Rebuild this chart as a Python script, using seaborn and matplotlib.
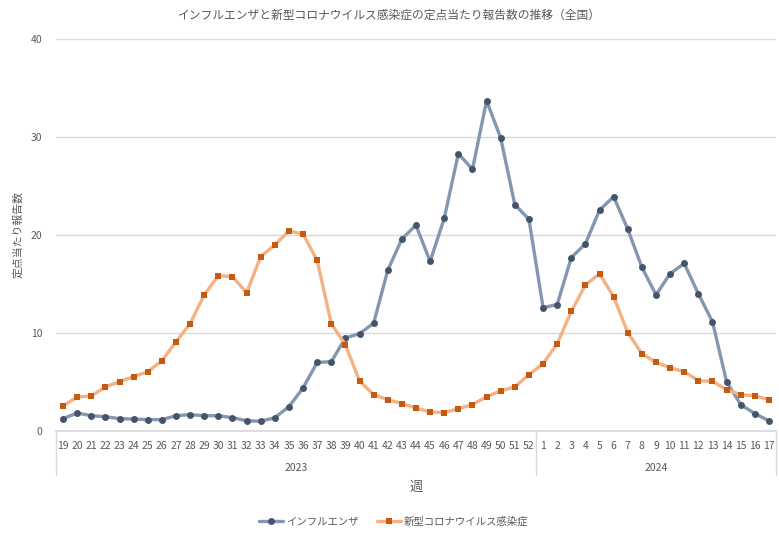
import matplotlib
matplotlib.use('Agg')
import matplotlib.pyplot as plt
import matplotlib.transforms as mtransforms
import numpy as np
import pandas as pd
import seaborn as sns

# week labels (2023: 19-52, 2024: 1-17)
weeks_2023 = list(range(19, 53))
weeks_2024 = list(range(1, 18))
week_labels = [str(w) for w in weeks_2023 + weeks_2024]
years = ['2023', '2024']

influenza = [1.26, 1.84, 1.56, 1.46, 1.26, 1.22, 1.16, 1.16, 1.56, 1.67,
             1.56, 1.56, 1.36, 1.05, 0.99, 1.36, 2.48, 4.4, 7.0, 7.07,
             9.5, 9.93, 11.0, 16.4, 19.6, 21.0, 17.3, 21.7, 28.3, 26.7,
             33.7, 29.9, 23.1, 21.6,
             12.6, 12.9, 17.7, 19.1, 22.55, 23.9, 20.6, 16.7, 13.9, 16.05,
             17.1, 14.0, 11.15, 5.03, 2.69, 1.77, 1.05]
covid = [2.55, 3.47, 3.57, 4.5, 5.03, 5.55, 6.05, 7.17, 9.1, 10.95,
         13.9, 15.85, 15.75, 14.1, 17.8, 19.0, 20.4, 20.1, 17.4, 10.95,
         8.8, 5.1, 3.7, 3.2, 2.8, 2.35, 1.94, 1.87, 2.28, 2.7,
         3.5, 4.1, 4.5, 5.75,
         6.87, 8.9, 12.2, 14.9, 16.05, 13.7, 10.03, 7.9, 7.0, 6.46,
         6.05, 5.13, 5.07, 4.22, 3.7, 3.6, 3.2]

series_names = ['インフルエンザ', '新型コロナウイルス感染症']

sns.set_theme(style='white')
plt.rcParams['font.family'] = ['Noto Sans CJK JP', 'DejaVu Sans']
text_color = '#595959'
grid_color = '#D9D9D9'

pos = np.arange(len(week_labels))
df = pd.DataFrame({
    'pos': np.concatenate([pos, pos]),
    'value': influenza + covid,
    'series': [series_names[0]] * len(pos) + [series_names[1]] * len(pos),
})

fig = plt.figure(figsize=(7.79, 5.34), dpi=100)
ax = fig.add_axes([56 / 779, 103 / 534, 720 / 779, 392 / 534])

sns.lineplot(data=df, x='pos', y='value', hue='series', style='series',
             palette={series_names[0]: '#8497B0', series_names[1]: '#F4B183'},
             markers={series_names[0]: 'o', series_names[1]: 's'},
             dashes=False, linewidth=2.4, markersize=5, ax=ax, legend=False)

# marker colors differ from line colors
for line, mc in zip(ax.lines, ['#44546A', '#C55A11']):
    line.set_markerfacecolor(mc)
    line.set_markeredgecolor(mc)
    line.set_markeredgewidth(0)

ax.set_xlim(-0.5, len(pos) - 0.5)
ax.set_ylim(0, 40)
ax.set_yticks([0, 10, 20, 30, 40])
ax.yaxis.grid(True, color=grid_color, linewidth=1)
ax.xaxis.grid(False)
for s in ['left', 'right', 'top']:
    ax.spines[s].set_visible(False)
ax.spines['bottom'].set_color(grid_color)
ax.tick_params(axis='y', length=0, labelsize=7.5, labelcolor=text_color, pad=10)
ax.set_xticks(pos)
ax.set_xticklabels(week_labels)
ax.tick_params(axis='x', length=0, labelsize=7.5, labelcolor=text_color, pad=7)
ax.set_xlabel('週', fontsize=9.5, color=text_color, labelpad=22)
ax.set_ylabel('定点当たり報告数', fontsize=7.8, color=text_color, labelpad=5)

# second level of the category axis: years
trans = mtransforms.blended_transform_factory(ax.transData, ax.transAxes)
n23 = len(weeks_2023)
for xb in [-0.5, n23 - 0.5, len(pos) - 0.5]:
    ax.plot([xb, xb], [0, -0.112], color=grid_color, lw=1, transform=trans, clip_on=False)
ax.text((n23 - 1) / 2, -0.095, years[0], transform=trans, ha='center', va='center',
        fontsize=7.5, color=text_color)
ax.text(n23 + (len(weeks_2024) - 1) / 2, -0.095, years[1], transform=trans, ha='center',
        va='center', fontsize=7.5, color=text_color)

fig.suptitle('インフルエンザと新型コロナウイルス感染症の定点当たり報告数の推移（全国）',
             y=1 - 15 / 534, va='center', fontsize=8.5, color=text_color)

handles = [
    plt.Line2D([], [], color='#8497B0', lw=2.4, marker='o', markersize=5,
               markerfacecolor='#44546A', markeredgewidth=0),
    plt.Line2D([], [], color='#F4B183', lw=2.4, marker='s', markersize=5,
               markerfacecolor='#C55A11', markeredgewidth=0),
]
leg = fig.legend(handles, series_names, loc='center', bbox_to_anchor=(394 / 779, 1 - 521 / 534),
                 ncol=2, frameon=False, fontsize=7.5, handlelength=2.3, handletextpad=0.3,
                 columnspacing=1.7)
for t in leg.get_texts():
    t.set_color(text_color)

fig.savefig('out.png', dpi=100)
